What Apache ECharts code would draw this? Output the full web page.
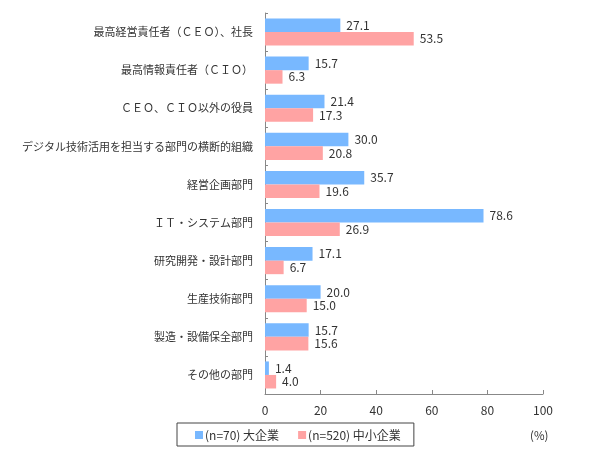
<!DOCTYPE html>
<html><head><meta charset="utf-8">
<script src="https://cdn.jsdelivr.net/npm/echarts@6/dist/echarts.min.js"></script>
<style>html,body{margin:0;padding:0;background:#fff}#c{width:590px;height:454px}</style>
</head><body><div id="c"></div>
<script>
const categories = ["最高経営責任者（ＣＥＯ）、社長","最高情報責任者（ＣＩＯ）","ＣＥＯ、ＣＩＯ以外の役員","デジタル技術活用を担当する部門の横断的組織","経営企画部門","ＩＴ・システム部門","研究開発・設計部門","生産技術部門","製造・設備保全部門","その他の部門"];
const largeName = "(n=70) 大企業";
const smallName = "(n=520) 中小企業";
const largeValues = [27.1,15.7,21.4,30.0,35.7,78.6,17.1,20.0,15.7,1.4];
const smallValues = [53.5,6.3,17.3,20.8,19.6,26.9,6.7,15.0,15.6,4.0];
const xTicks = [0,20,40,60,80,100];
const unitLabel = "(%)";

const font = '"Noto Sans CJK JP", "Noto Sans", sans-serif';
const chart = echarts.init(document.getElementById('c'), null, {renderer:'canvas'});
const lbl = {show:true, position:'right', distance:6, color:'#333', fontSize:12, fontFamily:font, formatter: p => p.value.toFixed(1)};
chart.setOption({
  animation:false,
  textStyle:{fontFamily:font},
  title:{text:unitLabel, left:525, top:425, textStyle:{fontSize:11.5, fontWeight:'normal', color:'#333', fontFamily:font}},
  grid:{left:265, right:47, top:13, bottom:60, containLabel:false},
  legend:{left:177, top:423, width:230, orient:'horizontal', padding:[6,13,5,18], itemGap:19,
    borderColor:'#444', borderWidth:1, itemWidth:8, itemHeight:8, icon:'rect',
    textStyle:{fontSize:12, color:'#333', fontFamily:font, padding:[0,0,0,-3]},
    data:[largeName, smallName]},
  xAxis:{type:'value', min:xTicks[0], max:xTicks[xTicks.length-1], interval:20,
    axisLine:{show:true, lineStyle:{color:'#888'}},
    axisTick:{show:true, inside:true, length:4, lineStyle:{color:'#888'}},
    splitLine:{show:false},
    axisLabel:{color:'#333', fontSize:12, margin:10, fontFamily:font}},
  yAxis:{type:'category', data:categories, inverse:true,
    axisLine:{show:true, lineStyle:{color:'#888'}},
    axisTick:{show:true, inside:true, length:3, lineStyle:{color:'#888'}},
    axisLabel:{color:'#333', fontSize:11, margin:12, fontFamily:font}},
  series:[
    {name:largeName, type:'bar', data:largeValues, barGap:'0%', barCategoryGap:'29%', itemStyle:{color:'#78B8FF'}, label:lbl},
    {name:smallName, type:'bar', data:smallValues, barGap:'0%', barCategoryGap:'29%', itemStyle:{color:'#FFA3A3'}, label:lbl}
  ]
});
</script></body></html>
